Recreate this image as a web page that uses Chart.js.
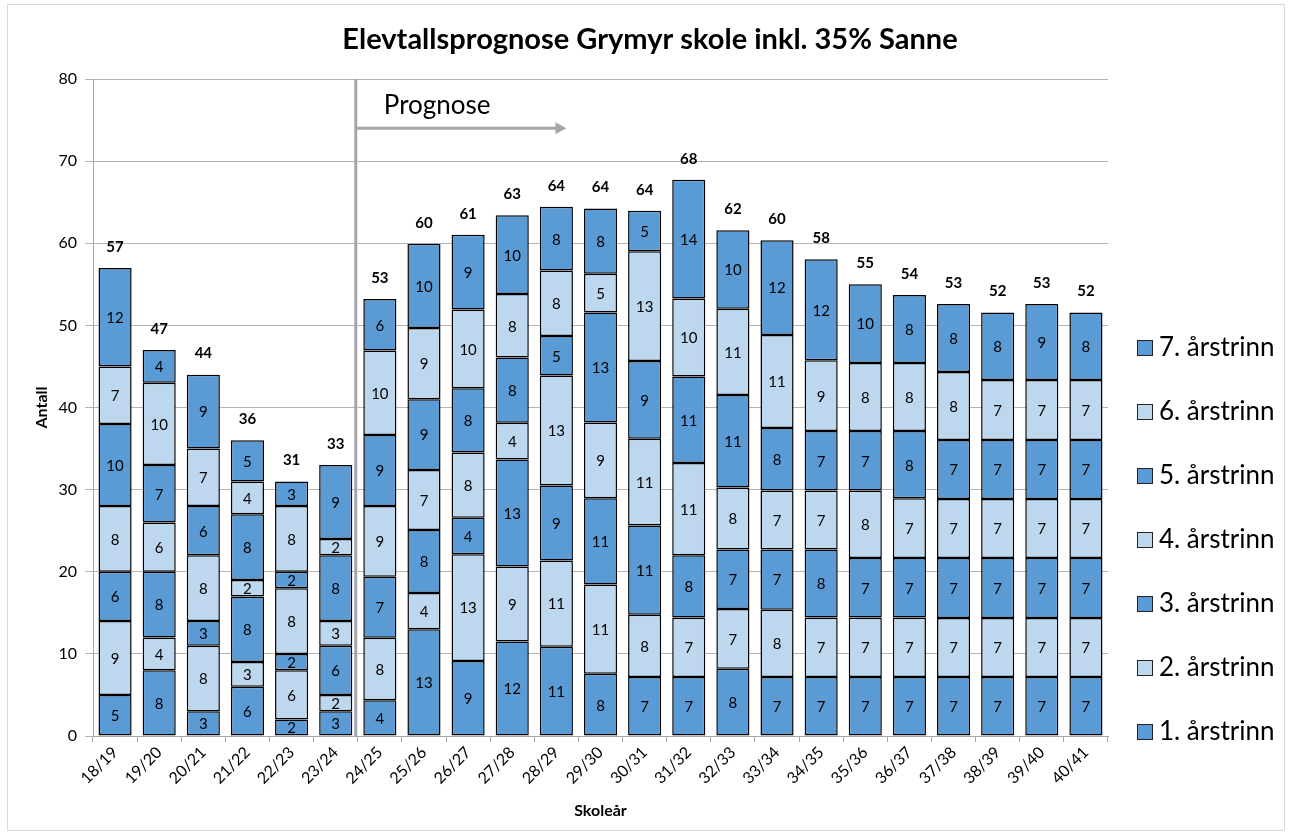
<!DOCTYPE html>
<html>
<head>
<meta charset="utf-8">
<script src="https://cdn.jsdelivr.net/npm/chart.js@4.4.1/dist/chart.umd.min.js"></script>
<style>
  body { margin: 0; background: #fff; }
  #wrap { width: 1291px; height: 839px; }
</style>
</head>
<body>
<div id="wrap"><canvas id="chart" width="1291" height="839"></canvas></div>
<script>
// School years (x categories)
const years = ['18/19','19/20','20/21','21/22','22/23','23/24','24/25','25/26','26/27','27/28','28/29',
  '29/30','30/31','31/32','32/33','33/34','34/35','35/36','36/37','37/38','38/39','39/40','40/41'];

// Pupils per grade (1. to 7. årstrinn)
const grade1 = [5, 8, 3, 6, 2, 3, 4.35, 13.01, 9.13, 11.5, 10.88, 7.57, 7.19, 7.19, 8.18, 7.19, 7.19, 7.19, 7.19, 7.17, 7.17, 7.17, 7.17];
const grade2 = [9, 4, 8, 3, 6, 2, 7.62, 4.40, 13.01, 9.15, 10.5, 10.88, 7.57, 7.24, 7.29, 8.18, 7.24, 7.24, 7.24, 7.2, 7.2, 7.2, 7.2];
const grade3 = [6, 8, 3, 8, 2, 6, 7.42, 7.66, 4.44, 13.01, 9.13, 10.5, 10.88, 7.57, 7.24, 7.34, 8.28, 7.24, 7.24, 7.29, 7.29, 7.29, 7.29];
const grade4 = [8, 6, 8, 2, 8, 3, 8.61, 7.33, 7.95, 4.49, 13.39, 9.22, 10.55, 11.25, 7.56, 7.19, 7.19, 8.23, 7.28, 7.21, 7.21, 7.21, 7.21];
const grade5 = [10, 7, 6, 8, 2, 8, 8.66, 8.61, 7.81, 7.95, 4.82, 13.39, 9.46, 10.51, 11.26, 7.61, 7.23, 7.23, 8.18, 7.16, 7.16, 7.16, 7.16];
const grade6 = [7, 10, 7, 4, 8, 2, 10.27, 8.66, 9.6, 7.71, 7.95, 4.73, 13.39, 9.5, 10.5, 11.31, 8.61, 8.28, 8.28, 8.3, 7.33, 7.33, 7.33];
const grade7 = [12, 4, 9, 5, 3, 9, 6.29, 10.26, 9.08, 9.6, 7.76, 7.95, 4.92, 14.48, 9.56, 11.55, 12.3, 9.6, 8.28, 8.26, 8.22, 9.23, 8.22];

const gradeNames = ['1. årstrinn','2. årstrinn','3. årstrinn','4. årstrinn','5. årstrinn','6. årstrinn','7. årstrinn'];
const yTicks = [0, 10, 20, 30, 40, 50, 60, 70, 80];
const prognoseStart = 6; // index of first forecast year

const DARK = '#5B9BD5';
const LIGHT = '#BDD7EE';
const FONT = 'Lato, "Open Sans", sans-serif';

const series = [grade1, grade2, grade3, grade4, grade5, grade6, grade7];
const datasets = series.map((vals, i) => ({
  label: gradeNames[i],
  data: vals,
  backgroundColor: i % 2 === 0 ? DARK : LIGHT,
  borderColor: '#000',
  borderWidth: 1.5,
  borderSkipped: false,
  categoryPercentage: 1,
  barPercentage: 0.75
}));

// White page with light frame and the main title
const framePlugin = {
  id: 'frame',
  beforeDraw(chart) {
    const ctx = chart.ctx;
    ctx.save();
    ctx.fillStyle = '#fff';
    ctx.fillRect(0, 0, chart.width, chart.height);
    ctx.strokeStyle = '#D9D9D9';
    ctx.lineWidth = 1;
    ctx.strokeRect(7.5, 4.5, 1277, 826);
    ctx.fillStyle = '#000';
    ctx.font = 'bold 29px ' + FONT;
    ctx.textAlign = 'center';
    ctx.textBaseline = 'middle';
    ctx.fillText('Elevtallsprognose Grymyr skole inkl. 35% Sanne', 650, 40);
    ctx.restore();
  }
};

// Vertical line + arrow marking the forecast
const prognosePlugin = {
  id: 'prognose',
  afterDatasetsDraw(chart) {
    const ctx = chart.ctx;
    const xs = chart.scales.x, ys = chart.scales.y;
    const lx = (xs.getPixelForValue(prognoseStart - 1) + xs.getPixelForValue(prognoseStart)) / 2 - 2;
    const ay = ys.getPixelForValue(74);
    const tip = xs.getPixelForValue(10) + 10;
    ctx.save();
    ctx.strokeStyle = '#A6A6A6';
    ctx.fillStyle = '#A6A6A6';
    ctx.lineWidth = 3;
    ctx.beginPath();
    ctx.moveTo(lx, chart.chartArea.top);
    ctx.lineTo(lx, chart.chartArea.bottom);
    ctx.moveTo(lx, ay);
    ctx.lineTo(tip - 9, ay);
    ctx.stroke();
    ctx.beginPath();
    ctx.moveTo(tip, ay);
    ctx.lineTo(tip - 11, ay - 6);
    ctx.lineTo(tip - 11, ay + 6);
    ctx.closePath();
    ctx.fill();
    ctx.fillStyle = '#000';
    ctx.font = '26px ' + FONT;
    ctx.textAlign = 'left';
    ctx.textBaseline = 'middle';
    ctx.fillText('Prognose', lx + 28, ys.getPixelForValue(76.7));
    ctx.restore();
  }
};

// Value labels in each segment and totals on top
const labelPlugin = {
  id: 'barLabels',
  afterDatasetsDraw(chart) {
    const ctx = chart.ctx;
    ctx.save();
    ctx.fillStyle = '#000';
    ctx.textAlign = 'center';
    ctx.textBaseline = 'middle';
    ctx.font = '15px ' + FONT;
    chart.data.datasets.forEach((ds, i) => {
      const meta = chart.getDatasetMeta(i);
      meta.data.forEach((bar, j) => {
        const p = bar.getProps(['x', 'y', 'base'], true);
        ctx.fillText(Math.round(ds.data[j]), p.x, (p.y + p.base) / 2 + 1);
      });
    });
    const last = chart.getDatasetMeta(chart.data.datasets.length - 1);
    ctx.font = 'bold 15px ' + FONT;
    last.data.forEach((bar, j) => {
      let sum = 0;
      chart.data.datasets.forEach(ds => { sum += ds.data[j]; });
      const p = bar.getProps(['x', 'y'], true);
      ctx.fillText(Math.round(sum), p.x, p.y - 21);
    });
    ctx.restore();
  }
};

// Legend on the right, top grade first
const legendPlugin = {
  id: 'sideLegend',
  afterDraw(chart) {
    const ctx = chart.ctx;
    ctx.save();
    ctx.font = '26px ' + FONT;
    ctx.textBaseline = 'middle';
    ctx.textAlign = 'left';
    for (let k = 0; k < 7; k++) {
      const i = 6 - k;
      const cy = 347 + k * 64;
      ctx.fillStyle = i % 2 === 0 ? DARK : LIGHT;
      ctx.fillRect(1137, cy - 7, 15, 15);
      ctx.strokeStyle = '#222';
      ctx.lineWidth = 1;
      ctx.strokeRect(1137.5, cy - 6.5, 15, 15);
      ctx.fillStyle = '#000';
      ctx.fillText(gradeNames[i], 1159, cy + 1);
    }
    ctx.restore();
  }
};

new Chart(document.getElementById('chart'), {
  type: 'bar',
  data: { labels: years, datasets: datasets },
  options: {
    responsive: false,
    animation: false,
    layout: { padding: { left: 30, right: 183, top: 79, bottom: 0 } },
    plugins: {
      legend: { display: false },
      title: { display: false },
      tooltip: { enabled: false }
    },
    scales: {
      x: {
        stacked: true,
        afterFit: s => { s.height = 103; },
        grid: { offset: true, drawOnChartArea: false, drawTicks: true, tickLength: 6, color: '#A6A6A6' },
        border: { color: '#A6A6A6' },
        ticks: { color: '#000', font: { family: FONT, size: 16 }, minRotation: 45, maxRotation: 45, padding: 1, autoSkip: false },
        title: { display: true, text: 'Skoleår', color: '#000', font: { family: FONT, size: 16, weight: 'bold' }, padding: { top: 4, bottom: 19 } }
      },
      y: {
        stacked: true,
        min: 0,
        max: 80,
        afterFit: s => { s.width = 63; },
        afterBuildTicks: s => { s.ticks = yTicks.map(v => ({ value: v })); },
        grid: { color: '#B4B4B4', tickLength: 8 },
        border: { color: '#A6A6A6' },
        ticks: { color: '#000', font: { family: FONT, size: 16 }, padding: 8 },
        title: { display: true, text: 'Antall', color: '#000', font: { family: FONT, size: 16, weight: 'bold' }, padding: { top: 2, bottom: 0 } }
      }
    }
  },
  plugins: [framePlugin, prognosePlugin, labelPlugin, legendPlugin]
});
</script>
</body>
</html>
